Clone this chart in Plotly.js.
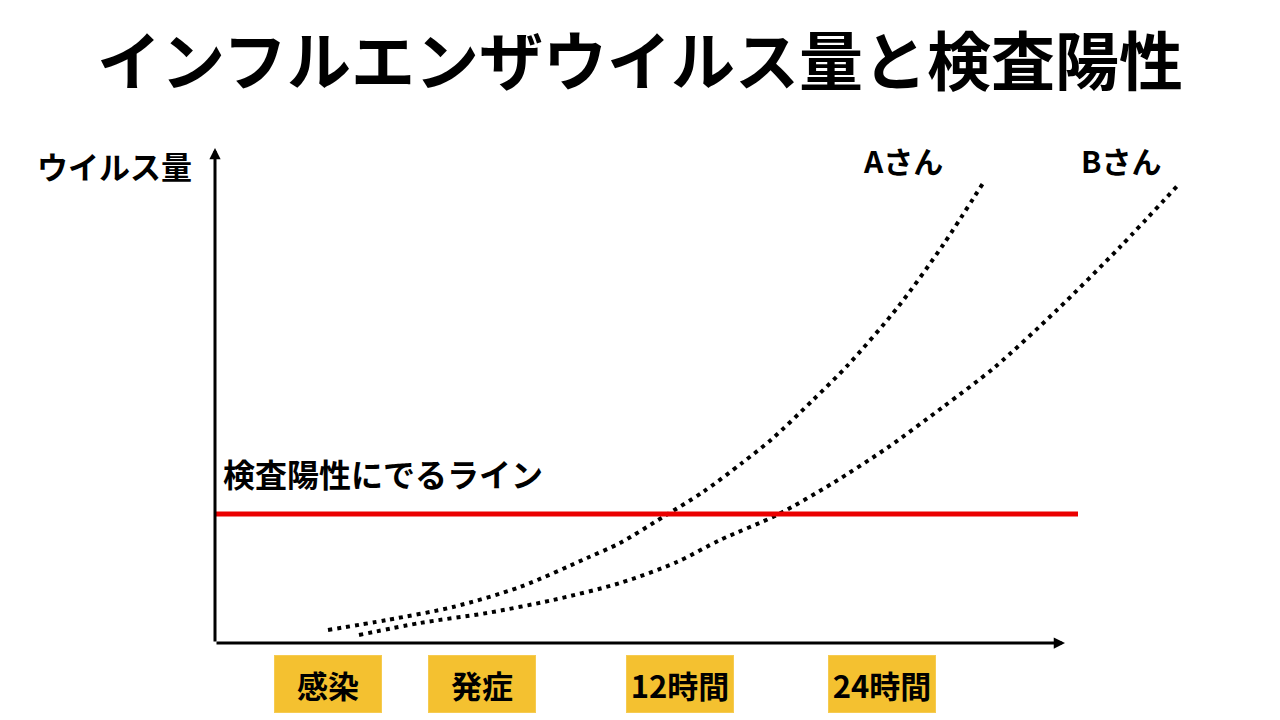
<!DOCTYPE html>
<html>
<head>
<meta charset="utf-8">
<script src="https://cdn.plot.ly/plotly-3.0.1.min.js"></script>
<style>html,body{margin:0;padding:0;background:#fff;}#chart{width:1280px;height:720px;}</style>
</head>
<body>
<div id="chart"></div>
<script>
// Data (abstract units: x = time axis, y = virus amount)
const titleText = 'インフルエンザウイルス量と検査陽性';
const yAxisLabel = 'ウイルス量';
const seriesNames = ['Aさん', 'Bさん'];
const xA = [11.3, 17.2, 23.8, 30.5, 37.2, 40.5, 44.8, 48.8, 52.7, 55.7, 59.8, 63.3, 68.3, 72.8, 77.0];
const yA = [2.6, 4.6, 7.2, 11.2, 17.0, 20.0, 25.2, 30.2, 36.0, 40.8, 48.6, 55.6, 67.2, 79.6, 92.6];
const xB = [14.4, 20.5, 27.2, 33.8, 40.5, 46.2, 50.5, 56.2, 61.8, 67.2, 72.8, 78.0, 84.2, 90.5, 96.5];
const yB = [1.6, 4.0, 6.0, 8.6, 12.0, 16.2, 20.6, 25.6, 32.0, 39.0, 47.2, 55.2, 66.6, 79.2, 92.0];
const thresholdLabel = '検査陽性にでるライン';
const thresholdValue = 25.8;
const thresholdExtent = [0, 86.3];
const timeLabels = ['感染', '発症', '12時間', '24時間'];
const timePositions = [11.25, 26.7, 46.5, 66.7];

const X_RANGE = [0, 98.5];
const Y_RANGE = [0, 100];
const FONT = '"Noto Sans CJK JP", "Noto Sans", sans-serif';
const dotLine = {color: '#000', width: 4, dash: '4px,5px', shape: 'spline', smoothing: 0.8};

const toPaperX = v => (v - X_RANGE[0]) / (X_RANGE[1] - X_RANGE[0]);
const toPaperY = v => (v - Y_RANGE[0]) / (Y_RANGE[1] - Y_RANGE[0]);

const traces = [
  {x: xA, y: yA, mode: 'lines', line: dotLine, hoverinfo: 'skip'},
  {x: xB, y: yB, mode: 'lines', line: dotLine, hoverinfo: 'skip'},
  {x: thresholdExtent, y: [thresholdValue, thresholdValue], mode: 'lines',
   line: {color: 'rgb(235,0,0)', width: 5}, hoverinfo: 'skip'}
];

const annotations = [
  // axes arrows
  {x: 0, y: 99, ax: 0, ay: 0, axref: 'x', ayref: 'y', xref: 'x', yref: 'y', text: '',
   showarrow: true, arrowhead: 2, arrowsize: 0.75, arrowwidth: 3, arrowcolor: '#000'},
  {x: 85, y: 0, ax: 0, ay: 0, axref: 'x', ayref: 'y', xref: 'x', yref: 'y', text: '',
   showarrow: true, arrowhead: 2, arrowsize: 0.75, arrowwidth: 3, arrowcolor: '#000'},
  {x: toPaperX(-2.1), y: toPaperY(95.4), xref: 'paper', yref: 'paper', xanchor: 'right', yanchor: 'middle', showarrow: false,
   text: yAxisLabel, font: {family: FONT, size: 31, color: '#000', weight: 'bold'}},
  {x: 64.6, y: 96.6, xref: 'x', yref: 'y', xanchor: 'left', yanchor: 'middle', showarrow: false,
   text: seriesNames[0], font: {family: FONT, size: 30, color: '#000', weight: 'bold'}},
  {x: 86.4, y: 96.6, xref: 'x', yref: 'y', xanchor: 'left', yanchor: 'middle', showarrow: false,
   text: seriesNames[1], font: {family: FONT, size: 30, color: '#000', weight: 'bold'}},
  {x: 0.6, y: 34, xref: 'x', yref: 'y', xanchor: 'left', yanchor: 'middle', showarrow: false,
   text: thresholdLabel, font: {family: FONT, size: 32, color: '#000', weight: 'bold'}}
];
timeLabels.forEach((t, i) => {
  annotations.push({x: toPaperX(timePositions[i]), y: toPaperY(-8.2), xref: 'paper', yref: 'paper',
    xanchor: 'center', yanchor: 'middle',
    showarrow: false, text: t, width: 106, height: 56, bgcolor: '#F4C130', bordercolor: '#F6CB50',
    borderwidth: 1, borderpad: 0, font: {family: FONT, size: 31, color: '#000', weight: 'bold'}});
});

const layout = {
  width: 1280, height: 720,
  paper_bgcolor: '#fff', plot_bgcolor: 'rgba(0,0,0,0)',
  margin: {l: 215, r: 80, t: 143, b: 77},
  showlegend: false,
  title: {text: titleText, x: 0.5, xanchor: 'center', y: 1 - 63/720, yanchor: 'middle', yref: 'container',
          font: {family: FONT, size: 64, color: '#000', weight: 'bold'}},
  xaxis: {range: X_RANGE, visible: false, fixedrange: true},
  yaxis: {range: Y_RANGE, visible: false, fixedrange: true},
  annotations: annotations
};

Plotly.newPlot('chart', traces, layout, {staticPlot: true});
</script>
</body>
</html>
